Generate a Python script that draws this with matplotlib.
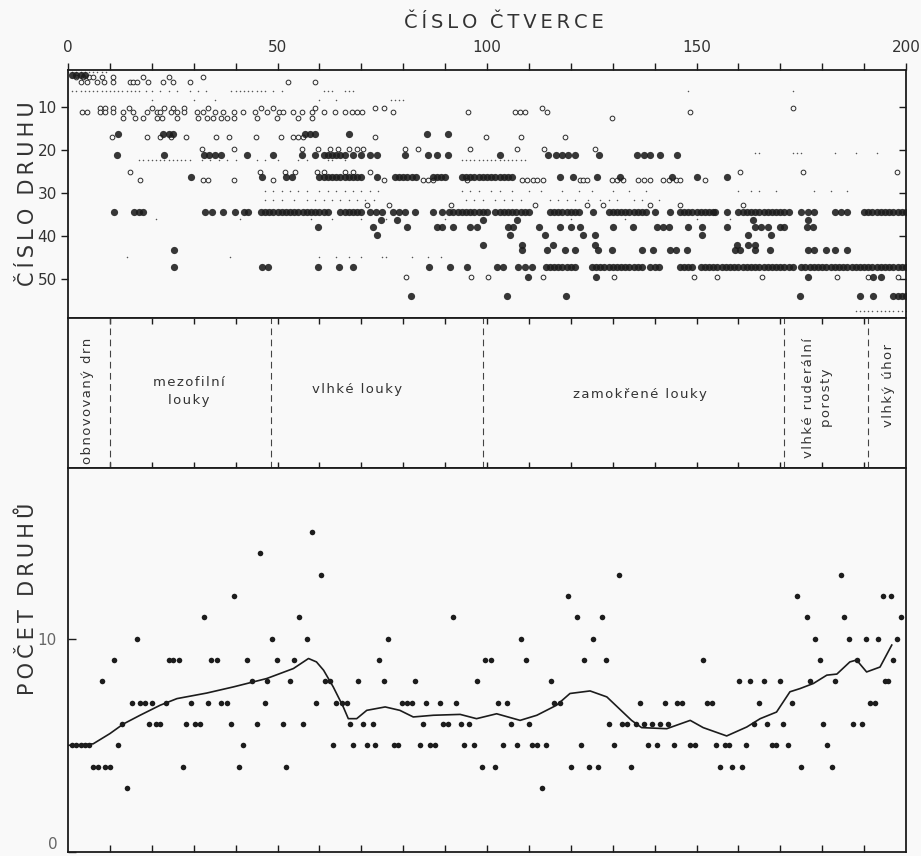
import matplotlib
matplotlib.use('Agg')
import matplotlib.pyplot as plt

# --- top panel: species (row) found in square (column) ---
# tokens: single square positions, "a-b" = every square from a to b
filled_rows = [
    (2.6, "1-4"),
    (16.2, "12 22.7 24 25.1 56.6 57.8 59 67.1 85.6 90.8"),
    (21.2, "11.8 23 32.5 33.7 35 36.6 42.8 49 55.8 59 61-66 68 70 72 73.7 80.4 86 88 90.8 "
           "103.1 114.6 116.5 118 119.4 121 126.8 135.7 137.4 139 141.3 145.3"),
    (26.3, "29.4 46.2 52 53.4 60-70 73.7 78-83 87-90 94-106 117.4 120.6 126.2 131.7 144.1 150 157.2"),
    (34.4, "11 15.8 17 18 32.7 34.3 36.9 39.9 42 43 46-62 65-70 72 73.5 75 77.5 79 80.5 82.8 87.2 89.2 "
           "91-100 102-110 115-122 125.4 129-137 138 140 143.7 146-154 154.4 157.2 160-172 175 176.5 178 "
           "183 184.5 186 190-200"),
    (36.4, "74.7 78.6 99.1 107.2 163.6 176.7"),
    (37.9, "59.6 72.7 81 88 89.2 92 96 97.5 105 106.3 112.3 117.4 120 122.2 130 134.8 140.5 142 143.5 "
           "148 151.2 157.2 164 165.5 167 170 171 176.3 177.9"),
    (39.9, "73.7 105.5 113.8 123 125.8 151.2 162.4 167.7"),
    (42.2, "99.1 108.3 115.7 125.8 159.6 162.4 164"),
    (43.4, "25.3 108.3 114.4 118.6 121 126.6 129.8 137 139.7 143.7 145 147.7 159.2 160.5 164 167.5 "
           "176.7 178 181 183 185.8"),
    (47.2, "25.3 46.2 47.8 59.7 64.7 68.1 86.2 91.2 95.2 102.3 103.9 107.5 109 110.7 114-121 125-137 "
           "139-141 146-149 151-173 175-200"),
    (49.6, "109.9 126 176.7 192.2 194"),
    (54.1, "81.9 104.7 118.9 174.6 189 192.2 197-200"),
]

open_rows = [
    (3.0, "2 3.5 5 6 8 10.8 18 24 32.3"),
    (4.1, "3 4.5 7 8.5 10.8 14.8 15.6 16.4 19.2 22.7 25.1 29.1 52.6 59"),
    (10.2, "7.6 8.8 10.8 14.6 20 23 25.1 27.8 33.5 46 49 59 73.3 75.3 113.1 173.1"),
    (11.1, "3.3 4.5 7.6 8.8 10.8 13.2 15.6 18.8 21.2 22 24.5 26 27.8 30.7 32.3 35 37 39.5 41.8 44.6 "
           "47.4 50.4 51.4 53.8 55.8 58.2 61 63.7 66.1 67.7 68.9 70.1 77.6 95.5 106.7 107.9 109.1 "
           "114.4 148.5"),
    (12.7, "13.2 16 18 21.2 22.4 26 31.1 33.1 34.7 36.4 37.9 39.5 45 49.8 55 58.2 129.8"),
    (16.9, "10.4 18.9 22 24.7 28.1 35.3 38.5 44.9 50.8 53.8 55 56.2 73.3 99.8 108 118.5"),
    (19.9, "31.9 39.5 55.8 59.7 62.5 64.5 67 69 70.5 80.4 83.6 96 107.2 113.5 125.8"),
    (25.1, "14.8 45.8 51.8 54.2 59.5 61 66 68 72 160.4 175.5 197.8"),
    (27.0, "17.2 32.3 33.5 39.5 49 75.3 84.8 86 87.2 95.2 108.3 109.5 111 112 113.4 122.2 123 123.8 "
           "129.8 131 132.5 136.1 137.5 138.9 142.1 143.5 145 146.1 152"),
    (32.9, "71.3 76.5 91.4 111.5 123.8 127.8 139 146 161.2"),
    (49.6, "80.7 96.3 100.3 113.4 130.2 149.3 154.8 165.6 183.5 191 198"),
]

dot_rows = [
    (1.8, "0-9"),
    (6.4, "1-17 18.5 20 22 24 26 29 31 33 39-46 47 49 51 61 62 63 66 67 68 148 173"),
    (8.4, "77 78 79 80 60 64 20 30 35"),
    (22.4, "17-29 32 34 36 38 40 45 47 50 55 57 62 63 66 94-109"),
    (20.8, "164 165 173 174 175 183 188 193"),
    (29.5, "47 49 51 53 55 57 60 62 64 66 68 70 72 74 94 96 98 101 103 106 110 113 118 122 125 130 "
           "134 138 160 163 165 169 178 182 186"),
    (31.7, "47 49 51 54 57 59 61 63 65 67 69 71 73 95 97 99 102 104 106 108 115 117 119 121 124 127 "
           "129 131 135 137 141"),
    (36.2, "21 41 58 63 70 76 90 120 133 150 158"),
    (45.0, "14 38.7 60 64 67 70 75 76 82 86 89"),
    (57.5, "188-200"),
]

# --- bottom panel: number of species per square ---
count_x = [1, 2, 3, 4, 5, 6, 7.2, 8.8, 10, 8, 11, 12, 13, 14.2, 15.2, 16.4, 17.2, 18.4, 19.3, 20, 21,
           22, 23.5, 24, 25, 26.5, 27.4, 28.1, 29.4, 30.3, 31.5, 32.5, 33.5, 34.1, 35.5, 36.5, 37.9,
           38.8, 39.6, 40.8, 41.8, 42.8, 43.9, 45, 45.8, 47, 47.6, 48.8, 49.8, 51.2, 52, 53, 54, 55.1,
           56, 57.1, 58.2, 59.1, 60.3, 61.3, 62.5, 63.3, 64, 65.3, 66.5, 67.3, 68.1, 69.3, 70.3, 71.3,
           72.7, 73.3, 74.2, 75.5, 76.4, 77.8, 78.8, 79.6, 80.8, 82, 82.7, 84, 84.8, 85.4, 86.4, 87.6,
           88.8, 89.6, 90.8, 91.8, 92.6,
           93.9, 94.5, 95.8, 97, 97.5, 98.7, 99.5, 100.9, 101.8, 102.7, 103.9, 104.7, 105.7, 107.2,
           108, 109.2, 110, 110.7, 111.9, 113.1, 114.2, 115.2, 116.1, 117.4, 119.3, 120, 121.4, 122.4,
           123.2, 124.4, 125.4, 126.6, 127.5, 128.4, 129.2, 130.3, 131.6, 132.3, 133.3, 134.4, 135.5,
           136.4, 137.5, 138.4, 139.3, 140.5, 141.3, 142.6, 143.3, 144.7, 145.4, 146.5, 148.5, 149.6,
           151.5, 152.4, 153.8, 154.7, 155.6, 156.8, 157.8, 158.4, 160.1, 160.8, 161.8, 162.8, 163.8,
           164.8, 166, 166.8, 168, 169, 169.9, 170.7, 171.9, 172.7, 174.1, 174.9, 176.3, 177.1, 178.4,
           179.5, 180.1, 181.1, 182.3, 183.1, 184.5, 185.3, 186.4, 187.4, 188.4, 189.4, 190.4, 191.4,
           192.6, 193.4, 194.6, 195, 195.8, 196.4, 197, 197.9, 198.8]
count_y = [5, 5, 5, 5, 5, 4, 4, 4, 4, 8, 9, 5, 6, 3, 7, 10, 7, 7, 6, 7, 6,
           6, 7, 9, 9, 9, 4, 6, 7, 6, 6, 11, 7, 9, 9, 7, 7,
           6, 12, 4, 5, 9, 8, 6, 14, 7, 8, 10, 9, 6, 4, 8, 9, 11,
           6, 10, 15, 7, 13, 8, 8, 5, 7, 7, 7, 6, 5, 8, 6, 5,
           6, 5, 9, 8, 10, 5, 5, 7, 7, 7, 8, 5, 6, 7, 5, 5,
           7, 6, 6, 11, 7,
           6, 5, 6, 5, 8, 4, 9, 9, 4, 7, 5, 7, 6, 5,
           10, 9, 6, 5, 5, 3, 5, 8, 7, 7, 12, 4, 11, 5,
           9, 4, 10, 4, 11, 9, 6, 5, 13, 6, 6, 4, 6,
           7, 6, 5, 6, 5, 6, 7, 6, 5, 7, 7, 5, 5,
           9, 7, 7, 5, 4, 5, 5, 4, 8, 4, 5, 8, 6,
           7, 8, 6, 5, 5, 8, 6, 5, 7, 12, 4, 11, 8, 10,
           9, 6, 5, 4, 8, 13, 11, 10, 6, 9, 6, 10, 7,
           7, 10, 12, 8, 8, 12, 9, 10, 11]

# smoothed trend line
trend_x = [0, 6, 10, 13.2, 17.2, 22, 26, 33.1, 39.5, 47.4, 53.8, 57.4, 59.3, 61, 63.3, 65.7, 66.9,
           68.9, 71.3, 75.7, 79.2, 82.4, 87.2, 93.6, 97.5, 102.3, 107.9, 111.9, 116.6, 119.8, 124.6,
           128.6, 134.5, 136.9, 142.9, 148.5, 151.6, 157.2, 162, 165.2, 169.1, 172.3, 174.7, 177.9,
           181.1, 183.5, 186.6, 188.2, 190.6, 193.8, 196.6]
trend_y = [5.0, 5.07, 5.55, 6.0, 6.41, 6.88, 7.19, 7.45, 7.74, 8.13, 8.6, 9.07, 8.91, 8.52, 7.74,
           6.8, 6.25, 6.25, 6.64, 6.8, 6.64, 6.33, 6.41, 6.45, 6.25, 6.48, 6.17, 6.41, 6.88, 7.43,
           7.55, 7.27, 6.17, 5.83, 5.78, 6.17, 5.83, 5.44, 5.86, 6.25, 6.56, 7.51, 7.66, 7.9, 8.29,
           8.34, 8.91, 9.0, 8.44, 8.67, 9.7]

# --- middle panel: vegetation zones ---
zone_edges = [10, 48.4, 99, 171, 191]
zone_labels = ["obnovovaný drn", "mezofilní\nlouky", "vlhké louky", "zamokřené louky",
               "vlhké ruderální\nporosty", "vlhký úhor"]
zone_label_x = [4.6, 28.9, 69, 136.5, 178.8, 195.8]
zone_label_y = [0.45, 0.51, 0.52, 0.49, 0.47, 0.55]
zone_label_rot = [90, 0, 0, 0, 90, 90]

bg = '#f9f9f9'
ink = '#1c1c1c'
txt = '#333333'


def squares(spec):
    out = []
    for tok in spec.split():
        if '-' in tok:
            a, b = tok.split('-')
            out.extend(range(int(a), int(b) + 1))
        else:
            out.append(float(tok))
    return out


def spaced(s, sep='\u2009'):
    return sep.join(s)


plt.rcParams['font.family'] = ['DejaVu Sans']

fig = plt.figure(figsize=(9.21, 8.56), dpi=100, facecolor=bg)
L, W = 68 / 921, 838 / 921
ax_top = fig.add_axes([L, 1 - 318 / 856, W, 248 / 856], facecolor=bg)
ax_mid = fig.add_axes([L, 1 - 468 / 856, W, 150 / 856], facecolor=bg)
ax_bot = fig.add_axes([L, 1 - 852 / 856, W, 384 / 856], facecolor=bg)

for ax in (ax_top, ax_mid, ax_bot):
    ax.set_xlim(0, 200)
    for sp in ax.spines.values():
        sp.set_linewidth(1.3)
        sp.set_color(ink)

# top panel marks
for sp_no, spec in dot_rows:
    xs = squares(spec)
    ax_top.plot(xs, [sp_no] * len(xs), ls='none', marker='o', ms=1.1, color='#555555', mew=0)
for sp_no, spec in open_rows:
    xs = squares(spec)
    ax_top.plot(xs, [sp_no] * len(xs), ls='none', marker='o', ms=3.4, mfc=bg, mec='#2a2a2a', mew=0.7)
for sp_no, spec in filled_rows:
    xs = squares(spec)
    ax_top.plot(xs, [sp_no] * len(xs), ls='none', marker='o', ms=5.2, color=ink, mew=0, alpha=0.88)

ax_top.set_ylim(59.2, 1.4)
ax_top.xaxis.tick_top()
ax_top.set_xticks([0, 50, 100, 150, 200])
ax_top.set_xticks(range(10, 200, 10), minor=True)
ax_top.tick_params(axis='x', which='both', direction='out', length=5, width=1, color=ink,
                   labelsize=11, labelcolor=txt, pad=6)
ax_top.set_yticks([10, 20, 30, 40, 50])
ax_top.tick_params(axis='y', direction='out', length=5, width=1, color=ink,
                   labelsize=11, labelcolor=txt, pad=3)
sec = ax_top.secondary_yaxis('right')
sec.set_yticks([10, 20, 30, 40, 50])
sec.tick_params(direction='in', length=5, width=1, color=ink, labelright=False)
sec.spines['right'].set_visible(False)
ax_top.set_ylabel(spaced("ČÍSLO") + "  " + spaced("DRUHU"), fontsize=15, color=txt)
ax_top.yaxis.set_label_coords(-0.036, 0.5)
fig.text(504 / 921, 1 - 22 / 856, spaced("ČÍSLO") + "  " + spaced("ČTVERCE"), fontsize=14,
         color=txt, ha='center', va='center')

# middle panel
ax_mid.set_ylim(0, 1)
ax_mid.set_yticks([])
ax_mid.set_xticks(range(10, 200, 10))
ax_mid.tick_params(axis='x', which='both', direction='in', length=4, width=1, color=ink,
                   top=True, bottom=True, labelbottom=False)
for xe in zone_edges:
    ax_mid.axvline(xe, color='#444444', lw=0.8, ls=(0, (6, 4)))
for lab, lx, ly, rot in zip(zone_labels, zone_label_x, zone_label_y, zone_label_rot):
    lines = [spaced(w, '\u200a') for w in lab.split('\n')]
    ax_mid.text(lx, ly, '\n'.join(lines), rotation=rot, ha='center', va='center',
                fontsize=9.5, color=txt, linespacing=1.5, multialignment='center')

# bottom panel
ax_bot.plot(trend_x, trend_y, color=ink, lw=1.2)
ax_bot.plot(count_x, count_y, ls='none', marker='o', ms=4, color=ink, mew=0)
ax_bot.set_ylim(0, 18)
ax_bot.set_xticks(range(10, 200, 10))
ax_bot.tick_params(axis='x', direction='in', length=5, width=1, color=ink, labelbottom=False)
ax_bot.set_yticks([0, 10])
ax_bot.set_yticklabels(['', '10'])
ax_bot.tick_params(axis='y', direction='in', length=6, width=1, color=ink,
                   labelsize=11, labelcolor='#666666', pad=8)
# the "0" sits at the very bottom edge; keep it just inside the figure
ax_bot.text(-0.012, 0.0, '0', transform=ax_bot.transAxes, ha='right', va='bottom',
            fontsize=11, color='#666666')
ax_bot.set_ylabel(spaced("POČET") + "  " + spaced("DRUHŮ"), fontsize=15, color=txt)
ax_bot.yaxis.set_label_coords(-0.036, 0.66)

fig.savefig('out.png', dpi=100, facecolor=bg)
